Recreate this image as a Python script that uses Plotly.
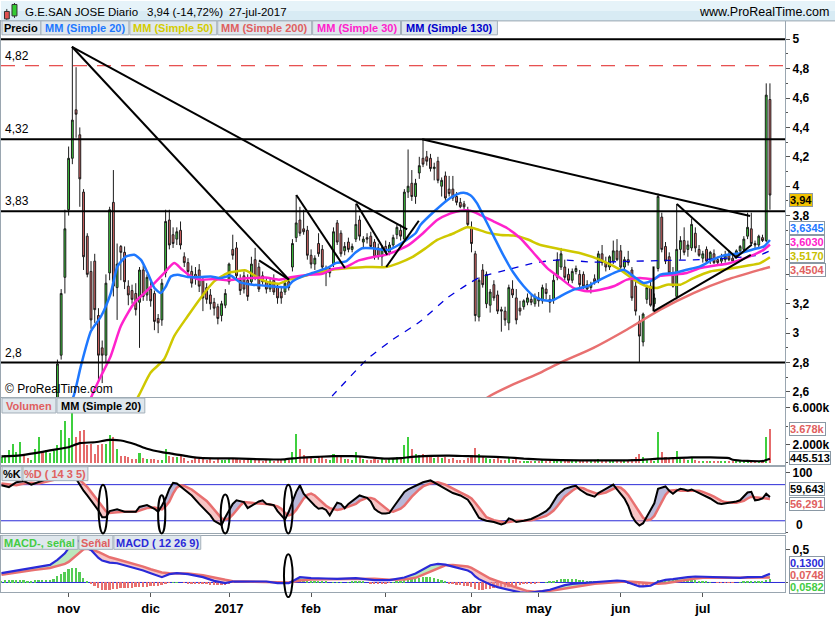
import plotly.graph_objects as go
import pandas as pd

W, H = 835, 620
PLOT_R = 785
FONT = "Liberation Sans, Arial, sans-serif"

# ---------------- calendar ----------------
holidays = {'2016-12-26', '2017-04-14', '2017-04-17', '2017-05-01'}
dates = [d for d in pd.bdate_range('2016-10-06', '2017-07-27') if d.strftime('%Y-%m-%d') not in holidays]
month_names = {11: 'nov', 12: 'dic', 1: '2017', 2: 'feb', 3: 'mar', 4: 'abr', 5: 'may', 6: 'jun', 7: 'jul'}

# ---------------- price data (OHLC) ----------------
open_ = [1.90,1.92,1.98,2.02,2.10,2.14,2.23,2.19,2.16,2.18,2.27,2.35,2.34,2.38,2.42,
         2.50,2.85,3.38,3.84,4.19,4.52,4.35,3.96,3.66,3.42,3.49,3.12,2.90,2.85,3.41,
         3.89,3.31,3.59,3.55,3.32,3.29,3.27,3.21,3.43,3.26,3.30,3.27,3.10,3.09,3.41,
         3.77,3.67,3.64,3.70,3.52,3.48,3.42,3.40,3.43,3.36,3.31,3.26,3.21,3.18,3.12,
         3.19,3.35,3.57,3.58,3.36,3.39,3.36,3.35,3.50,3.45,3.39,3.35,3.30,3.36,3.32,
         3.28,3.28,3.35,3.45,3.65,3.77,3.71,3.70,3.53,3.47,3.61,3.57,3.44,3.41,3.47,
         3.75,3.68,3.56,3.62,3.57,3.64,3.77,3.62,3.65,3.66,3.62,3.58,3.52,3.59,3.55,
         3.60,3.67,3.70,3.64,3.96,4.02,3.93,4.09,4.19,4.20,4.19,4.12,4.17,4.00,4.07,
         3.98,3.98,3.93,3.89,3.88,3.84,3.72,3.54,3.11,3.43,3.20,3.19,3.33,3.26,3.16,
         3.15,3.07,3.30,3.24,3.17,3.18,3.21,3.23,3.20,3.24,3.22,3.30,3.23,3.23,3.38,
         3.45,3.45,3.40,3.36,3.42,3.40,3.40,3.33,3.31,3.37,3.36,3.54,3.48,3.45,3.49,
         3.56,3.56,3.45,3.50,3.43,3.32,3.08,2.94,3.23,3.32,3.20,3.44,3.79,3.59,3.52,
         3.41,3.25,3.57,3.63,3.57,3.58,3.68,3.57,3.51,3.57,3.50,3.54,3.50,3.49,3.50,
         3.53,3.51,3.53,3.56,3.57,3.66,3.71,3.61,3.60,3.65,3.63,4.59]
high = [1.95,2.00,2.05,2.14,2.17,2.26,2.25,2.21,2.20,2.28,2.40,2.38,2.42,2.45,2.52,
        2.82,3.30,3.84,4.27,4.95,4.81,4.40,3.98,3.68,3.49,3.54,3.17,2.95,3.40,3.86,
        4.11,3.61,3.60,3.59,3.36,3.33,3.34,3.45,3.46,3.40,3.36,3.29,3.13,3.37,3.84,
        3.84,3.72,3.72,3.76,3.55,3.51,3.46,3.45,3.47,3.38,3.34,3.30,3.24,3.20,3.22,
        3.30,3.48,3.67,3.62,3.40,3.42,3.40,3.52,3.58,3.48,3.42,3.38,3.37,3.40,3.34,
        3.31,3.36,3.38,3.64,3.94,3.86,3.84,3.73,3.57,3.53,3.68,3.60,3.46,3.45,3.72,
        3.77,3.70,3.62,3.65,3.61,3.88,3.80,3.66,3.68,3.69,3.64,3.61,3.60,3.63,3.62,
        3.67,3.74,3.74,3.98,4.25,4.11,4.05,4.20,4.32,4.24,4.22,4.16,4.20,4.06,4.10,
        4.07,4.07,3.96,3.92,3.90,3.86,3.76,3.56,3.38,3.47,3.42,3.30,3.36,3.29,3.18,
        3.18,3.33,3.36,3.30,3.22,3.23,3.27,3.26,3.27,3.28,3.33,3.34,3.26,3.40,3.55,
        3.58,3.50,3.44,3.44,3.46,3.43,3.42,3.36,3.35,3.40,3.56,3.60,3.52,3.53,3.63,
        3.64,3.60,3.52,3.56,3.45,3.35,3.12,3.14,3.33,3.36,3.27,3.95,3.82,3.62,3.55,
        3.45,3.88,3.66,3.72,3.63,3.78,3.72,3.60,3.56,3.59,3.56,3.57,3.52,3.54,3.56,
        3.56,3.54,3.57,3.60,3.66,3.82,3.82,3.63,3.67,3.67,4.70,4.70]
low = [1.88,1.90,1.96,2.00,2.07,2.12,2.16,2.13,2.14,2.17,2.24,2.29,2.31,2.36,2.40,
       2.48,2.82,3.27,3.80,4.15,4.33,3.86,3.43,3.38,3.03,3.07,2.68,2.66,2.80,3.36,
       3.25,3.09,3.36,3.30,3.19,3.20,3.12,2.90,3.22,3.22,3.18,3.02,3.00,3.05,3.38,
       3.57,3.58,3.60,3.57,3.45,3.38,3.31,3.33,3.28,3.15,3.20,3.16,3.12,3.06,3.08,
       3.17,3.33,3.50,3.36,3.26,3.27,3.22,3.33,3.36,3.28,3.33,3.27,3.28,3.26,3.20,
       3.20,3.26,3.29,3.42,3.62,3.66,3.67,3.50,3.44,3.43,3.52,3.42,3.32,3.38,3.45,
       3.60,3.52,3.53,3.55,3.55,3.62,3.63,3.58,3.61,3.58,3.50,3.50,3.45,3.53,3.53,
       3.58,3.64,3.63,3.62,3.92,3.90,3.88,4.05,4.13,4.14,4.10,4.04,4.02,3.93,3.90,
       3.93,3.90,3.87,3.85,3.84,3.72,3.55,3.08,3.08,3.31,3.17,3.14,3.22,3.13,3.01,
       3.05,3.02,3.24,3.06,3.12,3.16,3.19,3.19,3.18,3.18,3.20,3.23,3.14,3.20,3.36,
       3.43,3.36,3.33,3.34,3.40,3.30,3.30,3.28,3.27,3.33,3.34,3.46,3.42,3.43,3.47,
       3.49,3.43,3.42,3.46,3.22,3.12,2.80,2.91,3.20,3.18,3.18,3.42,3.55,3.47,3.40,
       3.31,3.23,3.50,3.53,3.52,3.56,3.55,3.52,3.48,3.48,3.47,3.47,3.46,3.47,3.48,
       3.49,3.48,3.51,3.54,3.55,3.64,3.60,3.58,3.58,3.62,3.62,3.84]
close = [1.92,1.98,2.02,2.10,2.14,2.22,2.19,2.16,2.18,2.25,2.36,2.33,2.38,2.42,2.48,
         2.79,3.27,3.71,4.19,4.45,4.49,4.05,3.52,3.40,3.09,3.16,2.85,2.85,3.34,3.84,
         3.32,3.47,3.55,3.35,3.26,3.23,3.16,3.43,3.25,3.38,3.22,3.08,3.07,3.34,3.76,
         3.60,3.61,3.69,3.60,3.48,3.42,3.34,3.38,3.32,3.24,3.23,3.20,3.17,3.10,3.20,
         3.27,3.47,3.53,3.39,3.29,3.30,3.25,3.47,3.38,3.30,3.35,3.30,3.35,3.28,3.24,
         3.24,3.34,3.31,3.61,3.75,3.68,3.69,3.53,3.47,3.51,3.54,3.45,3.41,3.44,3.69,
         3.62,3.54,3.59,3.57,3.59,3.74,3.66,3.64,3.64,3.59,3.52,3.52,3.58,3.55,3.60,
         3.65,3.72,3.66,3.96,4.00,3.93,4.02,4.14,4.15,4.17,4.12,4.13,4.04,4.04,3.92,
         3.95,3.92,3.89,3.86,3.86,3.74,3.61,3.12,3.36,3.33,3.40,3.28,3.24,3.15,3.15,
         3.09,3.31,3.26,3.09,3.15,3.22,3.24,3.21,3.25,3.22,3.31,3.27,3.21,3.36,3.50,
         3.54,3.38,3.36,3.42,3.44,3.33,3.32,3.30,3.33,3.35,3.54,3.48,3.45,3.52,3.56,
         3.50,3.45,3.50,3.48,3.24,3.15,2.98,3.13,3.31,3.19,3.24,3.93,3.57,3.49,3.41,
         3.32,3.57,3.63,3.55,3.60,3.74,3.58,3.53,3.54,3.49,3.55,3.48,3.48,3.51,3.53,
         3.50,3.49,3.56,3.59,3.64,3.72,3.61,3.60,3.66,3.63,4.62,3.94]

# ---------------- volume (millions) ----------------
volume = [0.6,0.8,1.35,2.07,1.16,2.25,0.8,0.5,0.33,1.5,2.8,1.16,1.4,1.05,1.27,
          1.9,3.6,4.55,2.7,5.45,2.8,3.5,3.6,1.9,2.1,1.0,1.9,2.0,2.0,3.05,2.8,1.5,
          0.7,0.7,0.6,0.45,0.35,1.05,0.5,0.45,0.4,0.4,0.25,0.33,1.5,0.7,0.6,0.6,0.7,0.5,0.15,0.33,
          0.6,0.4,0.4,0.3,0.35,0.15,0.55,0.3,0.25,
          0.5,0.45,0.55,0.3,0.3,0.35,0.45,0.5,0.35,0.2,0.25,0.3,0.2,0.35,0.3,0.4,0.25,
          1.2,3.1,1.5,0.8,0.6,0.5,0.4,0.7,0.6,0.4,0.3,1.0,0.8,0.6,0.4,0.35,0.3,1.2,0.7,0.35,
          0.3,0.3,0.45,0.3,0.35,0.3,0.4,0.5,0.6,0.4,1.9,2.85,1.5,0.9,0.8,
          1.0,0.7,0.6,0.5,0.6,0.5,0.6,0.4,0.5,0.3,0.3,0.3,0.5,0.8,1.6,1.0,0.6,0.5,0.4,0.4,
          0.5,0.3,0.3,0.5,0.3,0.4,0.2,0.2,0.2,0.2,0.2,0.15,0.25,0.2,0.15,0.3,0.45,0.4,
          0.3,0.2,0.2,0.15,0.2,0.2,0.15,0.15,0.15,0.4,0.3,0.2,0.2,0.3,0.25,0.3,0.2,0.2,0.4,0.6,
          1.0,0.6,0.4,0.3,0.2,
          3.4,1.2,0.6,0.4,0.35,1.3,0.5,0.4,0.3,0.6,0.3,0.2,0.15,0.15,0.12,0.12,0.1,0.1,0.12,0.1,
          0.1,0.12,0.15,0.2,0.3,0.25,0.12,0.15,0.12,2.8,3.678]
volma_idx = [0,5,9,13,18,21,25,29,32,36,39,43,46,50,54,62,71,76,80,85,89,94,98,103,107,110,115,120,125,130,
             135,140,145,150,160,170,176,180,185,190,195,196,200,204,205,206]
volma_val = [0.69,0.80,1.05,1.35,1.70,2.15,2.25,2.50,2.44,2.0,1.53,1.16,0.98,0.69,0.50,0.48,0.36,0.38,0.55,0.65,
             0.72,0.72,0.62,0.45,0.5,0.65,0.75,0.78,0.72,0.68,0.6,0.45,0.35,0.28,0.25,0.28,0.45,0.5,0.58,0.58,
             0.5,0.33,0.2,0.18,0.31,0.4455]

# ---------------- moving averages ----------------
ma20_idx = [14,17,19.5,21.3,24,26.7,29.3,31.1,33.4,35.6,37.4,39.2,41,42.7,44.1,45.4,47.2,49.9,53.4,56.1,58.8,
            61.5,64,67.3,70.8,74.4,76.6,78,80.7,83.3,86,87.8,89.6,92.3,94.9,96.7,99.4,102.1,103.9,106.5,108,111,
            112.3,115.9,119.5,122.2,123.9,125.7,127.5,129.3,132,134.7,137.3,140,142.7,145.4,148,149.8,153.4,157,
            160.5,164.1,166.8,169.5,172.1,174.8,176.6,180.2,183.7,187.3,190.9,194.5,198,201.6,204.3,206]
ma20_val = [2.25,2.42,2.585,2.777,3.014,3.115,3.273,3.454,3.522,3.533,3.499,3.409,3.307,3.273,3.319,3.386,3.398,3.382,3.382,3.386,3.375,
            3.39,3.345,3.33,3.323,3.314,3.314,3.352,3.386,3.409,3.432,3.45,3.477,3.488,3.549,3.578,3.578,3.567,3.567,3.601,3.625,3.68,
            3.736,3.826,3.905,3.946,3.955,3.939,3.883,3.793,3.657,3.522,3.409,3.319,3.251,3.224,3.226,3.251,3.296,3.319,
            3.364,3.409,3.431,3.386,3.341,3.364,3.398,3.409,3.431,3.454,3.504,3.533,3.544,3.571,3.589,3.6345]
ma30_idx = [20,24.4,26.7,29.3,32,35.6,38.3,41,43.6,46.3,48.5,50.8,53.4,57,60.6,64.2,67.3,70.8,74.4,78,82.4,86,88.7,
            92.3,95.8,99.4,103,106.5,109.2,113,116.8,120.4,123,125.7,128.4,132,135.6,139.1,142.7,146.3,149.8,153.4,
            157,160.5,164.1,167.7,171.2,174.8,176.6,180.2,183.7,187.3,190.9,194.5,198,201.6,204.3,206]
ma30_val = [2.30,2.585,2.709,2.845,3.048,3.206,3.273,3.341,3.409,3.477,3.431,3.386,3.364,3.368,3.36,3.37,3.375,3.378,3.364,3.382,3.398,3.404,3.436,
            3.45,3.495,3.517,3.533,3.567,3.601,3.68,3.77,3.815,3.833,3.833,3.804,3.759,3.714,3.646,3.544,3.443,3.375,3.307,
            3.285,3.296,3.319,3.364,3.375,3.368,3.39,3.398,3.409,3.443,3.459,3.472,3.499,3.533,3.567,3.603]
ma50_idx = [33,37,40,43.6,46.3,49.9,53.4,57,60.6,62.8,65.5,68.2,70.8,74.4,77.1,80.7,84.2,88.7,93.2,97.6,103,106.5,
            110.1,113.7,116.8,121.3,124.8,126.6,130.2,133.8,137.3,140.9,144.5,149.8,155.2,160.5,165.9,169.5,173,
            175.7,178.4,182,185.5,190,194.5,199.8,203.4,206]
ma50_val = [2.40,2.585,2.732,2.822,2.98,3.115,3.24,3.352,3.409,3.42,3.427,3.386,3.352,3.337,3.364,3.386,3.409,3.432,3.443,3.45,3.45,3.477,
            3.517,3.578,3.635,3.68,3.72,3.714,3.684,3.668,3.664,3.639,3.60,3.571,3.544,3.499,3.431,3.364,3.319,
            3.307,3.33,3.33,3.375,3.42,3.436,3.459,3.477,3.517]
ma130_idx = [86,89.1,98,104.3,112.3,119.5,124.8,128.4,135.6,142.7,149.8,158.7,167.7,176.6,185.5,194.5,203.4,206]
ma130_val = [2.50,2.585,2.822,2.946,3.081,3.24,3.33,3.382,3.431,3.477,3.499,3.483,3.488,3.494,3.499,3.51,3.533,3.56]
ma200_idx = [128,131,137.3,144.5,149.8,158.7,167.7,176.6,185.5,194.5,203.4,206]
ma200_val = [2.52,2.574,2.653,2.732,2.799,2.90,3.025,3.16,3.273,3.364,3.432,3.4504]

# ---------------- stochastic %K / %D (14 3 5) ----------------
st_idx = [0,2,4,6,8,10,12,14,16,18,20,21,22,23,24,25,26,27,28,29,30,31,33,35,36,37,39,41,42,43,44,45,46,47,48,49,51,53,55,
          56,57,58,59,60,61,62,63,64,65,66,67,68,69,70,71,72,73,74,75,76,77,78,79,80,81,82,83,84,85,86,87,88,89,90,91,
          92,93,94,95,96,97,98,99,100,101,102,103,104,105,106,107,108,109,110,112,113,115,117,119,121,123,125,126,127,
          128,129,130,132,134,135,136,137,138,140,142,144,146,147,148,149,150,151,153,154,155,156,157,159,160,162,163,
          164,165,166,167,168,169,170,171,172,173,174,175,176,177,178,179,180,181,182,183,184,185,186,187,188,189,190,
          191,192,193,194,195,196,197,198,199,200,201,202,203,204,205,206]
st_k = [79,76,84,86,80,85,89,91,94,96,90,79,70,62,54,45,37,26,26,36,38,39,35,35,35,43,46,40,35,45,57,73,83,82,77,71,62,48,35,
        29,20,16,13,26,38,48,54,53,51,41,45,48,52,54,48,47,46,36,29,22,35,52,68,79,65,58,51,45,40,41,38,29,40,50,48,
        41,48,53,58,62,60,58,52,40,35,32,32,33,42,50,60,68,72,75,80,84,87,80,73,66,62,55,46,35,
        25,22,20,18,14,16,24,22,18,20,23,29,36,42,52,62,68,73,77,78,72,68,64,60,66,73,77,
        80,72,65,57,45,28,18,12,16,27,38,49,73,75,77,70,65,70,73,72,70,72,69,67,64,60,57,
        53,49,48,49,49,50,52,54,60,67,68,54,55,57,65,59.643]
st_d = [82,80,79,82,83,82,85,88,91,94,92,88,82,76,68,60,52,43,36,33,33,34,35,35,35,37,41,42,40,39,44,52,65,75,79,78,72,63,53,
        46,38,31,24,22,24,30,38,45,51,51,50,49,49,49,48,47,46,44,40,33,29,31,38,47,57,63,65,62,56,50,45,41,39,38,39,
        41,43,45,48,53,56,58,58,56,51,46,41,36,35,37,40,45,52,60,72,77,82,84,80,73,67,61,57,50,
        42,34,26,21,18,17,18,19,20,20,21,24,28,32,37,44,52,60,70,74,75,74,71,66,64,67,70,
        74,76,75,70,63,53,43,33,25,21,22,28,40,52,63,70,71,71,70,70,71,71,71,70,68,66,63,
        60,56,53,51,50,50,50,51,53,57,60,59,58,57,57,56.291]

# ---------------- MACD (12 26 9) ----------------
mc_idx = [0,5,9,13,15,17,18,19,20,21,22,23,24,25,26,27,28,29,31,33,36,38,40,43,45,47,50,54,57,60,62,67,71,74,77,80,83,87,
          90,95,100,104,108,111,113,115,117,119,121,123,125,126,127,128,129,130,131,133,135,137,139,141,143,145,147,149,
          151,153,155,157,159,161,163,165,167,169,171,172,174,176,178,180,182,184,186,188,190,192,194,196,198,200,202,
          204,205,206]
mc_macd = [0.14,0.19,0.225,0.265,0.34,0.44,0.52,0.60,0.64,0.62,0.57,0.52,0.49,0.43,0.37,0.33,0.31,0.30,0.29,0.26,0.21,0.18,
           0.14,0.08,0.125,0.14,0.125,0.08,0.025,-0.01,0.015,0.015,0.015,-0.01,-0.01,0.08,0.065,0.06,0.055,0.065,0.035,0.035,
           0.075,0.135,0.20,0.26,0.28,0.27,0.24,0.21,0.18,0.15,0.09,0.05,0.02,-0.01,-0.03,-0.07,-0.10,-0.13,-0.15,-0.16,
           -0.15,-0.13,-0.11,-0.07,-0.04,-0.02,-0.01,-0.01,0.0,0.01,0.02,0.03,0.02,-0.02,-0.06,-0.06,-0.05,0.01,0.04,0.05,
           0.07,0.08,0.09,0.085,0.08,0.075,0.07,0.068,0.07,0.08,0.085,0.085,0.11,0.13]
mc_sig = [0.115,0.16,0.19,0.22,0.25,0.28,0.31,0.36,0.41,0.46,0.50,0.51,0.50,0.48,0.46,0.43,0.40,0.38,0.35,0.32,0.28,0.24,
          0.20,0.15,0.14,0.14,0.135,0.11,0.07,0.04,0.02,0.015,0.015,0.008,0.0,0.03,0.045,0.05,0.05,0.055,0.055,0.04,
          0.045,0.07,0.12,0.17,0.22,0.26,0.265,0.255,0.24,0.22,0.19,0.16,0.13,0.09,0.06,0.02,-0.02,-0.06,-0.10,-0.13,
          -0.14,-0.135,-0.125,-0.11,-0.09,-0.07,-0.05,-0.03,-0.02,-0.01,0.0,0.01,0.015,0.01,0.0,-0.01,-0.02,-0.02,-0.01,0.01,
          0.03,0.04,0.06,0.07,0.075,0.077,0.075,0.072,0.07,0.07,0.073,0.075,0.074,0.0748]
mc_hist = [0.025,0.03,0.03,0.03,0.03,0.03,0.03,0.025,0.025,0.03,0.035,0.035,0.04,0.04,0.045,
           0.09,0.13,0.16,0.20,0.22,0.22,0.16,0.07,0.01,
           -0.03,-0.06,-0.09,-0.12,-0.12,-0.11,-0.10,-0.10,-0.09,-0.09,-0.085,-0.08,-0.075,-0.07,-0.065,-0.065,-0.06,-0.06,-0.06,-0.04,-0.02,-0.005,
           0.005,0.005,0.0,-0.005,-0.01,-0.015,-0.02,-0.025,-0.03,-0.03,-0.035,-0.035,-0.035,-0.04,-0.04,
           -0.02,-0.005,0,0,0,0,0.003,0.003,0,0,0,-0.003,-0.005,-0.01,-0.012,-0.012,-0.01,
           0.02,0.05,0.05,0.04,0.03,0.025,0.02,0.015,0.01,0.008,0.0,0.005,0.005,0.005,0.0,0.005,0.008,0.012,0.012,0.008,
           0.0,-0.01,-0.02,-0.02,-0.015,-0.01,-0.005,0.005,0.012,0.02,0.03,0.045,0.055,0.065,
           0.07,0.08,0.085,0.08,0.07,0.05,0.03,0.01,-0.01,-0.025,-0.035,-0.045,-0.05,-0.06,-0.07,-0.10,-0.11,-0.11,-0.10,-0.095,
           -0.09,-0.085,-0.08,-0.075,-0.065,-0.06,-0.05,-0.04,-0.03,-0.02,-0.015,-0.01,-0.005,
           0.0,0.005,0.01,0.02,0.04,0.045,0.05,0.05,0.05,0.045,0.04,0.035,0.02,0.02,0.02,0.025,0.02,0.02,0.02,0.02,
           0.02,0.01,0.005,-0.01,-0.03,-0.05,-0.06,-0.05,-0.04,-0.03,-0.02,0.03,0.035,0.05,0.045,0.04,0.045,0.04,0.04,0.04,
           0.035,0.03,0.02,0.015,0.01,0.005,0.0,-0.002,-0.004,-0.005,-0.005,-0.004,0.0,0.002,0.008,0.012,0.012,0.01,0.01,0.01,
           0.035,0.058]

# ---------------- drawings on the price panel ----------------
levels_solid = [5.0, 4.32, 3.83, 2.8]
level_dashed = 4.82
level_labels = [(4.82, '4,82'), (4.32, '4,32'), (3.83, '3,83'), (2.8, '2,8')]
trendlines = [((18.9, 4.949), (77.07, 3.364)), ((18.9, 4.949), (108.76, 3.707)),
              ((112.78, 4.319), (200.67, 3.797)), ((69.03, 3.495), (77.07, 3.364)),
              ((79.04, 3.940), (92.06, 3.443)), ((95.11, 3.883), (103.41, 3.533)),
              ((103.14, 3.450), (111.87, 3.765)), ((181.05, 3.879), (197.12, 3.511)),
              ((174.79, 3.149), (200.86, 3.533)), ((174.79, 3.454), (174.79, 3.149)),
              ((196.7, 3.511), (201.1, 3.601))]

# ---------------- helpers ----------------
def fx(p):
    return p / W

def fy(p):
    return 1 - p / H

xs = list(range(len(close)))
GREEN = '#3ecf3e'
RED = '#e56b6b'
C20, C50, C200, C30, C130 = '#1e78ff', '#cfc800', '#e87070', '#ff22cc', '#0000dd'

tickvals, ticktext = [], []
prev = None
for i, d in enumerate(dates):
    if prev is not None and d.month != prev:
        tickvals.append(i)
        ticktext.append('<b>' + month_names[d.month] + '</b>')
    prev = d.month

fig = go.Figure()

# price
fig.add_trace(go.Candlestick(x=xs, open=open_, high=high, low=low, close=close,
                             increasing=dict(line=dict(color='#1c1c1c', width=1), fillcolor=GREEN),
                             decreasing=dict(line=dict(color='#1c1c1c', width=1), fillcolor=RED),
                             whiskerwidth=0, xaxis='x', yaxis='y', hoverinfo='skip'))
for ix, vv, col, w, dash in [(ma200_idx, ma200_val, C200, 2.5, 'solid'), (ma130_idx, ma130_val, C130, 1.3, '7px,7px'),
                             (ma50_idx, ma50_val, C50, 2.5, 'solid'), (ma30_idx, ma30_val, C30, 2.5, 'solid'),
                             (ma20_idx, ma20_val, C20, 2.5, 'solid')]:
    fig.add_trace(go.Scatter(x=ix, y=vv, mode='lines', line=dict(color=col, width=w, dash=dash, shape='spline', smoothing=0.6),
                             xaxis='x', yaxis='y', hoverinfo='skip'))

# volume
vcol = [GREEN if c >= o else RED for o, c in zip(open_, close)]
fig.add_trace(go.Bar(x=list(range(len(volume))), y=volume, marker=dict(color=vcol, line=dict(width=0)), width=0.55,
                     xaxis='x2', yaxis='y2', hoverinfo='skip'))
fig.add_trace(go.Scatter(x=volma_idx, y=volma_val, mode='lines', line=dict(color='#000', width=2.2, shape='spline', smoothing=0.5),
                         xaxis='x2', yaxis='y2', hoverinfo='skip'))

# stochastic
st_hi = [max(k, d) for k, d in zip(st_k, st_d)]
st_lo = [min(k, d) for k, d in zip(st_k, st_d)]
fig.add_trace(go.Scatter(x=st_idx, y=st_d, mode='lines', line=dict(width=0), xaxis='x3', yaxis='y3', hoverinfo='skip'))
fig.add_trace(go.Scatter(x=st_idx, y=st_hi, mode='lines', line=dict(width=0), fill='tonexty',
                         fillcolor='rgba(125,125,185,0.55)', xaxis='x3', yaxis='y3', hoverinfo='skip'))
fig.add_trace(go.Scatter(x=st_idx, y=st_d, mode='lines', line=dict(width=0), xaxis='x3', yaxis='y3', hoverinfo='skip'))
fig.add_trace(go.Scatter(x=st_idx, y=st_lo, mode='lines', line=dict(width=0), fill='tonexty',
                         fillcolor='rgba(240,150,150,0.55)', xaxis='x3', yaxis='y3', hoverinfo='skip'))
fig.add_trace(go.Scatter(x=st_idx, y=st_d, mode='lines', line=dict(color='#e87070', width=2.5),
                         xaxis='x3', yaxis='y3', hoverinfo='skip'))
fig.add_trace(go.Scatter(x=st_idx, y=st_k, mode='lines', line=dict(color='#000', width=2),
                         xaxis='x3', yaxis='y3', hoverinfo='skip'))

# MACD
hcol = ['#55cc55' if h >= 0 else '#e87070' for h in mc_hist]
fig.add_trace(go.Bar(x=list(range(len(mc_hist))), y=mc_hist, marker=dict(color=hcol, line=dict(width=0)), width=0.5,
                     xaxis='x4', yaxis='y4', hoverinfo='skip'))
mc_hi = [max(a, b) for a, b in zip(mc_macd, mc_sig)]
mc_lo = [min(a, b) for a, b in zip(mc_macd, mc_sig)]
fig.add_trace(go.Scatter(x=mc_idx, y=mc_sig, mode='lines', line=dict(width=0), xaxis='x4', yaxis='y4', hoverinfo='skip'))
fig.add_trace(go.Scatter(x=mc_idx, y=mc_hi, mode='lines', line=dict(width=0), fill='tonexty',
                         fillcolor='rgba(120,210,120,0.5)', xaxis='x4', yaxis='y4', hoverinfo='skip'))
fig.add_trace(go.Scatter(x=mc_idx, y=mc_sig, mode='lines', line=dict(width=0), xaxis='x4', yaxis='y4', hoverinfo='skip'))
fig.add_trace(go.Scatter(x=mc_idx, y=mc_lo, mode='lines', line=dict(width=0), fill='tonexty',
                         fillcolor='rgba(240,150,150,0.55)', xaxis='x4', yaxis='y4', hoverinfo='skip'))
fig.add_trace(go.Scatter(x=mc_idx, y=mc_sig, mode='lines', line=dict(color='#e87070', width=2.5),
                         xaxis='x4', yaxis='y4', hoverinfo='skip'))
fig.add_trace(go.Scatter(x=mc_idx, y=mc_macd, mode='lines', line=dict(color='#2a2ad8', width=2.2),
                         xaxis='x4', yaxis='y4', hoverinfo='skip'))

# ---------------- axes ----------------
XR = [-0.126, 210.05]
XD = [0, fx(PLOT_R)]
LC = '#9aa6b0'
def xax(anchor, labels):
    d = dict(domain=XD, range=XR, anchor=anchor, showgrid=False, zeroline=False, showline=True, mirror=True,
             linecolor=LC, linewidth=1, fixedrange=True)
    if labels:
        d.update(tickmode='array', tickvals=tickvals, ticktext=ticktext, ticks='outside', ticklen=4, tickcolor='#555',
                 tickfont=dict(family=FONT, size=13, color='#000'))
    else:
        d.update(showticklabels=False, ticks='')
    return d

def yax(anchor, dom, rng, tv, tt, minor_vals):
    return dict(domain=dom, range=rng, anchor=anchor, side='right', showgrid=False, zeroline=False, showline=True,
                mirror=True, linecolor=LC, linewidth=1, tickmode='array', tickvals=tv, ticktext=tt, ticks='outside',
                ticklen=4, tickcolor='#555', tickfont=dict(family=FONT, size=12, color='#000'),
                minor=dict(tickvals=minor_vals, ticks='outside', ticklen=2, tickcolor='#555'), fixedrange=True)

pv = [2.6, 2.8, 3.0, 3.2, 3.4, 3.6, 3.8, 4.0, 4.2, 4.4, 4.6, 4.8, 5.0]
hidden_ticks = {3.4, 3.6}   # covered by the value boxes in the reference
pt = ['' if v in hidden_ticks else '<b>' + (('%g' % v).replace('.', ',')) + '</b>' for v in pv]

fig.update_layout(
    width=W, height=H, margin=dict(l=0, r=0, t=0, b=0), paper_bgcolor='#ffffff', plot_bgcolor='#ffffff',
    showlegend=False, font=dict(family=FONT), bargap=0,
    xaxis=dict(xax('y', False), rangeslider=dict(visible=False)),
    xaxis2=dict(xax('y2', False), matches='x'),
    xaxis3=dict(xax('y3', False), matches='x'),
    xaxis4=dict(xax('y4', True), matches='x'),
    yaxis=yax('x', [fy(398), fy(20)], [2.565, 5.125], pv, pt, [2.7, 2.9, 3.1, 3.3, 3.5, 3.7, 3.9, 4.1, 4.3, 4.5, 4.7, 4.9]),
    yaxis2=yax('x2', [fy(466), fy(399)], [-0.218, 7.088], [2, 6], ['<b>2.000k</b>', '<b>6.000k</b>'], [0, 4]),
    yaxis3=yax('x3', [fy(534.4), fy(468)], [0, 109.75], [100], ['<b>100</b>'], [0, 50]),
    yaxis4=yax('x4', [fy(594), fy(537.7)], [-0.1456, 0.6997], [0.5], ['<b>0,5</b>'], [0]),
)

shapes = []
ann = []

# header bar
shapes.append(dict(type='rect', xref='paper', yref='paper', x0=0, x1=1, y0=fy(10), y1=1, fillcolor='#e6f3f9', line=dict(width=0), layer='above'))
shapes.append(dict(type='rect', xref='paper', yref='paper', x0=0, x1=1, y0=fy(20), y1=fy(10), fillcolor='#d8ebf4', line=dict(width=0), layer='above'))
shapes.append(dict(type='line', xref='paper', yref='paper', x0=0, x1=1, y0=fy(20), y1=fy(20), line=dict(color=LC, width=1)))
# icon
shapes.append(dict(type='line', xref='paper', yref='paper', x0=fx(5.8), x1=fx(5.8), y0=fy(19), y1=fy(8), line=dict(color='#333', width=1)))
shapes.append(dict(type='rect', xref='paper', yref='paper', x0=fx(3.5), x1=fx(8.3), y0=fy(18), y1=fy(10.5), fillcolor='#e05050', line=dict(color='#333', width=1)))
shapes.append(dict(type='line', xref='paper', yref='paper', x0=fx(13.5), x1=fx(13.5), y0=fy(17), y1=fy(2), line=dict(color='#333', width=1)))
shapes.append(dict(type='rect', xref='paper', yref='paper', x0=fx(11), x1=fx(16), y0=fy(15), y1=fy(3.5), fillcolor='#33cc33', line=dict(color='#333', width=1)))

def text_ann(x, y, text, color='#000', size=12, xanchor='left', bg=None, border=None):
    a = dict(xref='paper', yref='paper', x=fx(x), y=fy(y), text=text, showarrow=False, xanchor=xanchor,
             yanchor='middle', font=dict(family=FONT, size=size, color=color))
    if bg:
        a.update(bgcolor=bg)
    if border:
        a.update(bordercolor=border, borderwidth=1, borderpad=0)
    return a

for x, t in [(22, 'G.E.SAN JOSE'), (105, 'Diario'), (144, '3,94 (-14,72%)'), (226, '27-jul-2017')]:
    ann.append(text_ann(x, 11, t, size=11.5))
ann.append(text_ann(831, 11, 'www.ProRealTime.com', size=12.5, xanchor='right'))

# price levels
for lv in levels_solid:
    shapes.append(dict(type='line', xref='paper', yref='y', x0=0, x1=fx(PLOT_R), y0=lv, y1=lv, line=dict(color='#000', width=2)))
shapes.append(dict(type='line', xref='paper', yref='y', x0=0, x1=fx(PLOT_R), y0=level_dashed, y1=level_dashed,
                   line=dict(color='#e02020', width=1, dash='14px,10px')))
for lv, t in level_labels:
    ann.append(dict(xref='paper', yref='y', x=fx(2), y=lv, text=t, showarrow=False, xanchor='left', yanchor='bottom',
                    yshift=1, font=dict(family=FONT, size=12, color='#000')))
ann.append(text_ann(2, 389.5, '© ProRealTime.com', size=12))

# trendlines
for (x0, y0), (x1, y1) in trendlines:
    shapes.append(dict(type='line', xref='x', yref='y', x0=x0, y0=y0, x1=x1, y1=y1, line=dict(color='#000', width=2)))

# stoch / macd reference lines
for v in [80, 20]:
    shapes.append(dict(type='line', xref='paper', yref='y3', x0=0, x1=fx(PLOT_R), y0=v, y1=v, line=dict(color='#2a2ad8', width=1), layer='below'))
shapes.append(dict(type='line', xref='paper', yref='y4', x0=0, x1=fx(PLOT_R), y0=0, y1=0, line=dict(color='#2a2ad8', width=1), layer='below'))
ann.append(text_ann(794, 527, '<b>0</b>', size=12))

# hand-drawn ellipses
for x0, y0, x1, y1 in [(97.7, 486, 106.5, 535), (157.3, 496.7, 164.5, 535), (220, 496, 229, 535),
                       (283.3, 486, 292, 535), (283.3, 556, 292, 599)]:
    shapes.append(dict(type='circle', xref='paper', yref='paper', x0=fx(x0), x1=fx(x1), y0=fy(y1), y1=fy(y0),
                       line=dict(color='#000', width=2)))

# legend boxes
legend_rows = [
    (20, 34, [(1, 40, 'Precio', '#000'), (40, 128, 'MM (Simple 20)', C20), (129, 216, 'MM (Simple 50)', '#d4cc00'),
              (217, 311, 'MM (Simple 200)', '#e06060'), (312, 400, 'MM (Simple 30)', C30), (401, 497, 'MM (Simple 130)', '#0000cc')]),
    (399, 414, [(1, 55, 'Volumen', '#e06060'), (56, 144, 'MM (Simple 20)', '#000')]),
    (468, 482, [(1, 21, '%K', '#000'), (22, 87, '%D ( 14 3 5)', '#e06060')]),
    (537, 551, [(1, 77, 'MACD-, señal', '#44cc44'), (78, 112, 'Señal', '#e06060'), (113, 200, 'MACD ( 12 26 9)', '#2a2ad8')]),
]
for y0, y1, boxes in legend_rows:
    for x0, x1, t, c in boxes:
        shapes.append(dict(type='rect', xref='paper', yref='paper', x0=fx(x0), x1=fx(x1), y0=fy(y1), y1=fy(y0),
                           fillcolor='#dfe7ed', line=dict(color='#a4b0ba', width=1)))
        ann.append(text_ann((x0 + x1) / 2, (y0 + y1) / 2 + 0.5, '<b>' + t + '</b>', color=c, size=11, xanchor='center'))

# right-side value labels
value_labels = [(200, '3,94', '#000', '#f2c200'), (228, '3,6345', C20, '#fff'), (242, '3,6030', C30, '#fff'),
                (256, '3,5170', '#c8c000', '#fff'), (270, '3,4504', '#e06060', '#fff'),
                (430, '3.678k', '#e06060', '#fff'), (459, '445.513', '#000', '#fff'),
                (490, '59,643', '#000', '#fff'), (505, '56,291', '#e06060', '#fff'),
                (565, '0,1300', '#2a2ad8', '#fff'), (577, '0,0748', '#e06060', '#fff'), (589, '0,0582', '#44cc44', '#fff')]
for y, t, c, bg in value_labels:
    ann.append(text_ann(789, y, '<b>' + t + '</b>', color=c, size=11, bg=bg, border='#8a98a4'))

fig.update_layout(shapes=shapes, annotations=ann)
fig.write_html('out.html')
